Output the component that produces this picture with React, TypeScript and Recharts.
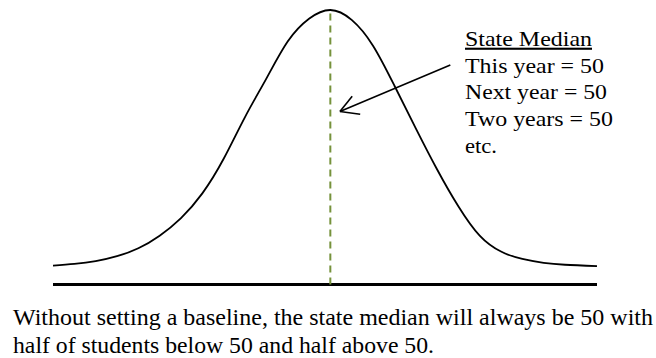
import React from 'react';
import { LineChart, Line, XAxis, YAxis, ReferenceLine } from 'recharts';

// Score positions along the curve (median at 50)
const scores = [-2, 2, 6, 10, 14, 18, 22, 26, 30, 34, 38, 42, 46, 50, 54, 58, 62, 66, 70, 74, 78, 82, 86, 90, 94, 100];
// Height of the curve at each score (0 = baseline, 100 = peak)
const heights = [6.9, 7.5, 8.5, 10.3, 13.2, 17.8, 24.2, 33.2, 45.8, 61, 75, 88.5, 96.8, 100, 96.4, 87, 72.5, 57, 42, 28.5, 17.8, 12.0, 9.3, 7.9, 7.2, 6.7];

const median = 50;

// Annotation arrow: from the text box to the median line
const arrowTail = { x: 72.5, y: 80 };
const arrowTip = { x: 51.8, y: 63 };
const arrowBarbs = [
  { x: 54.1, y: 68.6 },
  { x: 55.6, y: 62.0 },
];

const noteLines = ['State Median', 'This year = 50', 'Next year = 50', 'Two years = 50', 'etc.'];
const noteWidths = [127, 139, 142, 148, 32];

const captionLines = [
  'Without setting a baseline, the state median will always be 50 with',
  'half of students below 50 and half above 50.',
];
const captionWidths = [640, 421];

const data = scores.map((s, i) => ({ score: s, height: heights[i] }));

const font = '"Liberation Serif", "Times New Roman", serif';

const App: React.FC = () => {
  return (
    <div style={{ position: 'absolute', left: 0, top: 0, width: 656, height: 358, background: '#fff' }}>
      <LineChart
        width={656}
        height={358}
        data={data}
        margin={{ top: 10, right: 59, left: 53, bottom: 73.5 }}
      >
        <XAxis type="number" dataKey="score" domain={[-2, 100]} hide />
        <YAxis type="number" domain={[0, 100]} hide />
        <ReferenceLine y={0} stroke="#000" strokeWidth={3} />
        <ReferenceLine x={median} stroke="#76923C" strokeWidth={2} strokeDasharray="7 5" />
        <Line
          type="natural"
          dataKey="height"
          stroke="#000"
          strokeWidth={1.8}
          dot={false}
          isAnimationActive={false}
        />
        <ReferenceLine segment={[arrowTail, arrowTip]} stroke="#000" strokeWidth={1.6} />
        {arrowBarbs.map((b, i) => (
          <ReferenceLine key={i} segment={[arrowTip, b]} stroke="#000" strokeWidth={1.6} />
        ))}
      </LineChart>
      <svg
        width={656}
        height={358}
        style={{ position: 'absolute', left: 0, top: 0, pointerEvents: 'none' }}
      >
        {noteLines.map((t, i) => (
          <text
            key={t}
            x={465}
            y={45.7 + i * 26.8}
            fontFamily={font}
            fontSize={21}
            fill="#000"
            textLength={noteWidths[i]}
            lengthAdjust="spacingAndGlyphs"
            textDecoration={i === 0 ? 'underline' : undefined}
          >
            {t}
          </text>
        ))}
        {captionLines.map((t, i) => (
          <text
            key={t}
            x={13}
            y={325 + i * 27.5}
            fontFamily={font}
            fontSize={22.5}
            fill="#000"
            textLength={captionWidths[i]}
            lengthAdjust="spacingAndGlyphs"
          >
            {t}
          </text>
        ))}
      </svg>
    </div>
  );
};

export default App;
